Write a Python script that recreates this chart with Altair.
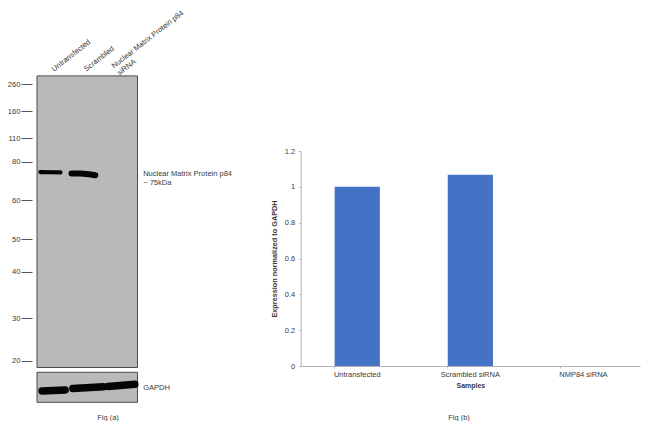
import altair as alt
import pandas as pd

FONT = "Liberation Sans"
TXT = "#3a3a3a"

# Western blot: molecular-weight ladder and scale
mw_ticks = [260, 160, 110, 80, 60, 50, 40, 30, 20]
mw_pixels = [76, 103, 130.3, 153.7, 192, 231.3, 263.7, 310.3, 352.7]
blot_top_mw, blot_bottom_mw = 290, 18.4
lane_x = alt.Scale(domain=[0, 3], range=[29, 129.5], zero=False, nice=False)
mw_y = alt.Scale(domain=mw_ticks, range=mw_pixels, zero=False, nice=False)

# p84 bands
band_name = ["U", "U", "U", "S", "S", "S", "S"]
band_lane = [0.1, 0.45, 0.7, 1.03, 1.3, 1.55, 1.74]
band_mw = [74.6, 74.5, 74.4, 73.8, 73.8, 73.4, 72.9]
band_width = [4.2, 4.2, 4.2, 6, 6, 6, 6]

# GAPDH strip
gapdh_name = ["A", "A", "B", "B", "C", "C"]
gapdh_lane = [0.15, 0.84, 1.07, 1.98, 2.12, 2.92]
gapdh_level = [0.38, 0.41, 0.46, 0.52, 0.53, 0.6]
strip_y = alt.Scale(domain=[0, 1], range=[394.3, 364.3], zero=False, nice=False)

# Lane titles
lane_titles = ["Untransfected", "Scrambled", "Nuclear Matrix Protein p84\nsiRNA"]
lane_title_x = [0.40, 1.36, 2.19]
lane_title_mw = [323, 323, 335]

# Bar chart
samples = ["Untransfected", "Scrambled siRNA", "NMP84 siRNA"]
expression = [1.0, 1.068, 0.0]

bg = alt.Chart(pd.DataFrame({"a": [0], "b": [3], "t": [blot_top_mw], "u": [blot_bottom_mw]})).mark_rect(
    fill="#b9b9b9", stroke="#4d4d4d", strokeWidth=1
).encode(
    x=alt.X("a:Q", scale=lane_x, axis=None),
    x2="b:Q",
    y=alt.Y("t:Q", scale=mw_y, axis=alt.Axis(
        orient="left", values=mw_ticks, offset=-24, tickSize=11, tickColor="#555555", tickWidth=1,
        domain=False, grid=False, labelPadding=1, labelFont=FONT, labelFontSize=7.6,
        labelColor=TXT, title=None)),
    y2="u:Q",
)

bands = alt.Chart(pd.DataFrame({"n": band_name, "l": band_lane, "m": band_mw, "w": band_width})).mark_line(
    color="#050505", strokeCap="round", strokeJoin="round"
).encode(
    x=alt.X("l:Q", scale=lane_x, axis=None),
    y=alt.Y("m:Q", scale=mw_y, axis=None),
    detail="n:N",
    strokeWidth=alt.StrokeWidth("w:Q", scale=None),
)

strip_bg = alt.Chart(pd.DataFrame({"a": [0], "b": [3], "t": [1], "u": [0]})).mark_rect(
    fill="#b9b9b9", stroke="#4d4d4d", strokeWidth=1
).encode(
    x=alt.X("a:Q", scale=lane_x, axis=None), x2="b:Q",
    y=alt.Y("t:Q", scale=strip_y, axis=None), y2="u:Q",
)

gapdh = alt.Chart(pd.DataFrame({"n": gapdh_name, "l": gapdh_lane, "v": gapdh_level})).mark_line(
    color="#050505", strokeWidth=7.5, strokeCap="round", strokeJoin="round"
).encode(
    x=alt.X("l:Q", scale=lane_x, axis=None),
    y=alt.Y("v:Q", scale=strip_y, axis=None),
    detail="n:N",
)

top_labels = alt.Chart(pd.DataFrame({"t": lane_titles, "l": lane_title_x, "m": lane_title_mw})).mark_text(
    angle=322, align="left", baseline="top", font=FONT, fontSize=7.5, color=TXT, lineBreak="\n", lineHeight=9
).encode(
    x=alt.X("l:Q", scale=lane_x, axis=None),
    y=alt.Y("m:Q", scale=mw_y, axis=None),
    text="t:N",
)

side = alt.Chart(pd.DataFrame({"t": ["Nuclear Matrix Protein p84\n~ 75kDa"], "l": [3.17], "m": [74.5]})).mark_text(
    align="left", baseline="top", font=FONT, fontSize=7.5, color=TXT, lineBreak="\n", lineHeight=8.8, dy=-2
).encode(
    x=alt.X("l:Q", scale=lane_x, axis=None),
    y=alt.Y("m:Q", scale=mw_y, axis=None),
    text="t:N",
)

side2 = alt.Chart(pd.DataFrame({"t": ["GAPDH"], "l": [3.17], "v": [0.47]})).mark_text(
    align="left", baseline="middle", font=FONT, fontSize=7.5, color=TXT
).encode(
    x=alt.X("l:Q", scale=lane_x, axis=None),
    y=alt.Y("v:Q", scale=strip_y, axis=None),
    text="t:N",
)

bar_x = alt.Scale(domain=samples, range=[292.7, 632], paddingInner=0.6, paddingOuter=0.3)
bar_y = alt.Scale(domain=[0, 1.2], range=[358, 143], zero=True, nice=False)

bars = alt.Chart(pd.DataFrame({"s": samples, "e": expression})).mark_bar(color="#4472c4").encode(
    x=alt.X("s:N", sort=samples, scale=bar_x, axis=alt.Axis(
        orient="bottom", offset=-55, labelAngle=0, bandPosition=0, tickSize=2, tickColor="#b5b5b5",
        domainColor="#b5b5b5", labelFont=FONT, labelFontSize=7.5, labelColor=TXT, labelPadding=2,
        title="Samples", titleFont=FONT, titleFontSize=7, titleFontWeight="bold", titleColor=TXT, titlePadding=4)),
    y=alt.Y("e:Q", scale=bar_y, axis=alt.Axis(
        orient="left", offset=-292.7, values=[0, 0.2, 0.4, 0.6, 0.8, 1, 1.2], tickSize=2, grid=False,
        tickColor="#b5b5b5", domainColor="#b5b5b5", labelFont=FONT, labelFontSize=7.5, labelColor=TXT,
        labelPadding=4, format="~g",
        title="Expression  normalized to GAPDH", titleFont=FONT, titleFontSize=7.3, titleFontWeight="bold",
        titleColor=TXT, titlePadding=6)),
)

captions = alt.Chart(pd.DataFrame({"t": ["Fig (a)"]})).mark_text(
    font=FONT, fontSize=7.5, color=TXT, baseline="alphabetic"
).encode(x=alt.value(100), y=alt.value(411.5), text="t:N")
captions2 = alt.Chart(pd.DataFrame({"t": ["Fig (b)"]})).mark_text(
    font=FONT, fontSize=7.5, color=TXT, baseline="alphabetic"
).encode(x=alt.value(451), y=alt.value(411.5), text="t:N")

chart = alt.layer(
    bg, strip_bg, bands, gapdh, top_labels, side, side2, bars, captions, captions2
).resolve_scale(x="independent", y="independent", strokeWidth="independent").resolve_axis(
    x="independent", y="independent"
).properties(
    width=634, height=413, padding=0, autosize=alt.AutoSizeParams(type="none"), background="white"
).configure_view(strokeWidth=0)

chart.save("out.html", embed_options={"renderer": "svg", "actions": False})
